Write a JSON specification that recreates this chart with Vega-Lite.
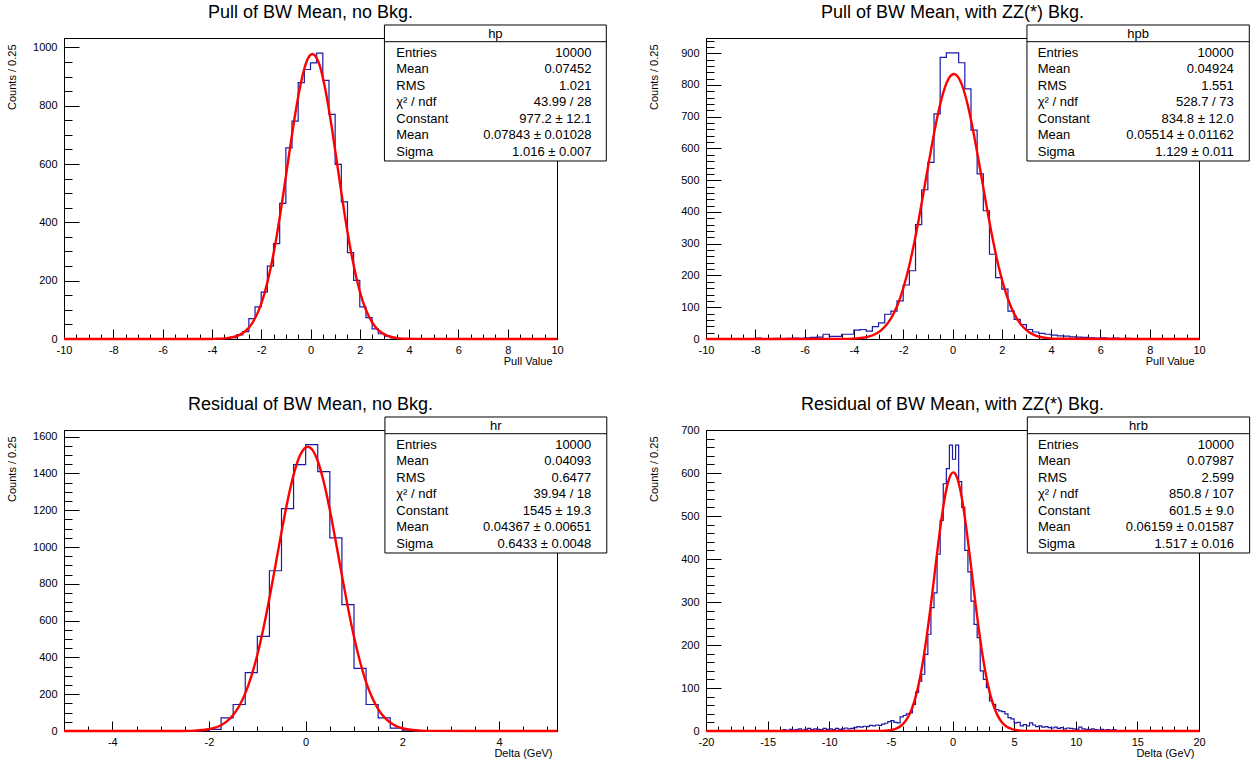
{
"$schema": "https://vega.github.io/schema/vega-lite/v6.json",
"background": "white",
"padding": {"left": 5, "top": 3, "right": 0, "bottom": 0},
"bounds": "flush",
"columns": 2,
"spacing": {"row": 91, "column": 149},
"config": {
  "view": {"stroke": "black", "strokeWidth": 1},
  "font": "Liberation Sans",
  "title": {"font": "Liberation Sans", "fontSize": 18, "fontWeight": "normal", "color": "black", "frame": "group", "anchor": "middle", "baseline": "alphabetic", "offset": 2},
  "axis": {"labelFont": "Liberation Sans", "labelFontSize": 11, "labelColor": "black", "tickColor": "black", "domainColor": "black", "titleFont": "Liberation Sans", "titleFontSize": 11, "titleFontWeight": "normal", "titleColor": "black", "grid": false, "labelOverlap": false, "labelFlush": false, "labelBound": false},
  "axisX": {"titleAlign": "right", "titleBaseline": "alphabetic", "titleAngle": 0, "titleX": 488, "titleY": 25},
  "axisY": {"titleAlign": "right", "titleBaseline": "middle", "titleAngle": -90, "titleX": -52, "titleY": 6},
  "text": {"font": "Liberation Sans", "fontSize": 13, "color": "black"}
},
"datasets": {
  "hp": [{"x":-10,"n":0},{"x":-3.5,"n":2},{"x":-3.25,"n":5},{"x":-3,"n":14},{"x":-2.75,"n":25},{"x":-2.5,"n":70},{"x":-2.25,"n":110},{"x":-2,"n":161},{"x":-1.75,"n":250},{"x":-1.5,"n":327},{"x":-1.25,"n":465},{"x":-1,"n":655},{"x":-0.75,"n":747},{"x":-0.5,"n":879},{"x":-0.25,"n":924},{"x":0,"n":947},{"x":0.25,"n":980},{"x":0.5,"n":887},{"x":0.75,"n":770},{"x":1,"n":599},{"x":1.25,"n":470},{"x":1.5,"n":296},{"x":1.75,"n":201},{"x":2,"n":110},{"x":2.25,"n":73},{"x":2.5,"n":35},{"x":2.75,"n":18},{"x":3,"n":10},{"x":3.25,"n":4},{"x":3.5,"n":1},{"x":3.75,"n":0},{"x":10,"n":0}],
  "fhp": [{"x":-10,"f":0},{"x":-4,"f":0.2},{"x":-3.875,"f":0.5},{"x":-3.625,"f":1.3},{"x":-3.375,"f":3.0},{"x":-3.125,"f":6.8},{"x":-2.875,"f":14.3},{"x":-2.625,"f":28.3},{"x":-2.375,"f":53},{"x":-2.125,"f":93},{"x":-1.875,"f":154},{"x":-1.625,"f":240},{"x":-1.375,"f":351},{"x":-1.125,"f":485},{"x":-0.875,"f":629},{"x":-0.625,"f":769},{"x":-0.375,"f":884},{"x":-0.125,"f":958},{"x":0.078,"f":977.2},{"x":0.125,"f":976},{"x":0.375,"f":937},{"x":0.625,"f":845},{"x":0.875,"f":719},{"x":1.125,"f":575},{"x":1.375,"f":433},{"x":1.625,"f":307},{"x":1.875,"f":205},{"x":2.125,"f":128},{"x":2.375,"f":76},{"x":2.625,"f":42},{"x":2.875,"f":22},{"x":3.125,"f":11},{"x":3.375,"f":5},{"x":3.625,"f":2},{"x":3.875,"f":0.9},{"x":4.1,"f":0.3},{"x":10,"f":0}],
  "hpb": [{"x":-10,"n":0},{"x":-8,"n":3},{"x":-7.75,"n":0},{"x":-7.5,"n":1},{"x":-7.25,"n":2},{"x":-7,"n":1},{"x":-6.75,"n":2},{"x":-6.5,"n":3},{"x":-6.25,"n":2},{"x":-6,"n":4},{"x":-5.75,"n":5},{"x":-5.5,"n":6},{"x":-5.25,"n":15},{"x":-5,"n":8},{"x":-4.75,"n":8},{"x":-4.5,"n":15},{"x":-4.25,"n":15},{"x":-4,"n":28},{"x":-3.75,"n":30},{"x":-3.5,"n":25},{"x":-3.25,"n":39},{"x":-3,"n":51},{"x":-2.75,"n":78},{"x":-2.5,"n":88},{"x":-2.25,"n":120},{"x":-2,"n":170},{"x":-1.75,"n":215},{"x":-1.5,"n":360},{"x":-1.25,"n":470},{"x":-1,"n":556},{"x":-0.75,"n":709},{"x":-0.5,"n":887},{"x":-0.25,"n":901},{"x":0,"n":901},{"x":0.25,"n":870},{"x":0.5,"n":788},{"x":0.75,"n":658},{"x":1,"n":520},{"x":1.25,"n":404},{"x":1.5,"n":267},{"x":1.75,"n":193},{"x":2,"n":157},{"x":2.25,"n":88},{"x":2.5,"n":62},{"x":2.75,"n":45},{"x":3,"n":30},{"x":3.25,"n":22},{"x":3.5,"n":18},{"x":3.75,"n":15},{"x":4,"n":12},{"x":4.25,"n":10},{"x":4.5,"n":9},{"x":4.75,"n":7},{"x":5,"n":6},{"x":5.25,"n":5},{"x":5.5,"n":4},{"x":5.75,"n":3},{"x":6,"n":4},{"x":6.25,"n":2},{"x":6.5,"n":3},{"x":6.75,"n":1},{"x":7,"n":2},{"x":7.25,"n":0},{"x":10,"n":0}],
  "fhpb": [{"x":-10,"f":0},{"x":-4.2,"f":0.5},{"x":-3.875,"f":1.9},{"x":-3.625,"f":4.1},{"x":-3.375,"f":8.3},{"x":-3.125,"f":15.8},{"x":-2.875,"f":28.8},{"x":-2.625,"f":49.9},{"x":-2.375,"f":82},{"x":-2.125,"f":129},{"x":-1.875,"f":193.5},{"x":-1.625,"f":276},{"x":-1.375,"f":374},{"x":-1.125,"f":484},{"x":-0.875,"f":594},{"x":-0.625,"f":696},{"x":-0.375,"f":776},{"x":-0.125,"f":824},{"x":0.055,"f":834.8},{"x":0.125,"f":833},{"x":0.375,"f":802},{"x":0.625,"f":735},{"x":0.875,"f":641},{"x":1.125,"f":533},{"x":1.375,"f":421},{"x":1.625,"f":317},{"x":1.875,"f":227},{"x":2.125,"f":155},{"x":2.375,"f":101},{"x":2.625,"f":62.6},{"x":2.875,"f":36.9},{"x":3.125,"f":20.7},{"x":3.375,"f":11},{"x":3.625,"f":5.6},{"x":3.875,"f":2.7},{"x":4.2,"f":0.8},{"x":10,"f":0}],
  "hr": [{"x":-5,"n":0},{"x":-2.25,"n":2},{"x":-2,"n":9},{"x":-1.75,"n":71},{"x":-1.5,"n":144},{"x":-1.25,"n":317},{"x":-1,"n":514},{"x":-0.75,"n":871},{"x":-0.5,"n":1209},{"x":-0.25,"n":1448},{"x":0,"n":1557},{"x":0.25,"n":1410},{"x":0.5,"n":1050},{"x":0.75,"n":687},{"x":1,"n":340},{"x":1.25,"n":144},{"x":1.5,"n":71},{"x":1.75,"n":16},{"x":2,"n":4},{"x":2.25,"n":0},{"x":5.2,"n":0}],
  "fhr": [{"x":-5,"f":0},{"x":-2.6,"f":0.3},{"x":-2.375,"f":0.9},{"x":-2.125,"f":5.3},{"x":-2,"f":9.9},{"x":-1.875,"f":18.1},{"x":-1.75,"f":31.6},{"x":-1.625,"f":53.4},{"x":-1.5,"f":86.7},{"x":-1.375,"f":135.8},{"x":-1.25,"f":204.5},{"x":-1.125,"f":296.7},{"x":-1,"f":414.4},{"x":-0.875,"f":557.2},{"x":-0.75,"f":721.8},{"x":-0.625,"f":900},{"x":-0.5,"f":1081},{"x":-0.375,"f":1250},{"x":-0.25,"f":1392},{"x":-0.125,"f":1492.8},{"x":0,"f":1541.4},{"x":0.0437,"f":1545},{"x":0.125,"f":1532.8},{"x":0.25,"f":1467.6},{"x":0.375,"f":1353},{"x":0.5,"f":1201.4},{"x":0.625,"f":1027},{"x":0.75,"f":845.6},{"x":0.875,"f":670.5},{"x":1,"f":511.7},{"x":1.125,"f":376.4},{"x":1.25,"f":266.2},{"x":1.375,"f":181.6},{"x":1.5,"f":119.1},{"x":1.625,"f":75.4},{"x":1.75,"f":45.9},{"x":1.875,"f":26.9},{"x":2.125,"f":8.2},{"x":2.375,"f":2.2},{"x":2.6,"f":0.5},{"x":5.2,"f":0}],
  "hrb": [{"x":-20,"n":0},{"x":-13.75,"n":3},{"x":-13.5,"n":0},{"x":-13.25,"n":4},{"x":-13,"n":2},{"x":-12.75,"n":3},{"x":-12.5,"n":5},{"x":-12.25,"n":2},{"x":-12,"n":4},{"x":-11.75,"n":6},{"x":-11.5,"n":3},{"x":-11.25,"n":5},{"x":-11,"n":4},{"x":-10.75,"n":3},{"x":-10.5,"n":6},{"x":-10.25,"n":4},{"x":-10,"n":5},{"x":-9.75,"n":3},{"x":-9.5,"n":6},{"x":-9.25,"n":4},{"x":-9,"n":5},{"x":-8.75,"n":7},{"x":-8.5,"n":5},{"x":-8.25,"n":6},{"x":-8,"n":8},{"x":-7.75,"n":10},{"x":-7.5,"n":9},{"x":-7.25,"n":11},{"x":-7,"n":10},{"x":-6.75,"n":13},{"x":-6.5,"n":12},{"x":-6.25,"n":14},{"x":-6,"n":13},{"x":-5.75,"n":16},{"x":-5.5,"n":18},{"x":-5.25,"n":22},{"x":-5,"n":24},{"x":-4.75,"n":20},{"x":-4.5,"n":19},{"x":-4.25,"n":33},{"x":-4,"n":36},{"x":-3.75,"n":40},{"x":-3.5,"n":42},{"x":-3.25,"n":62},{"x":-3,"n":90},{"x":-2.75,"n":116},{"x":-2.5,"n":132},{"x":-2.25,"n":178},{"x":-2,"n":225},{"x":-1.75,"n":287},{"x":-1.5,"n":321},{"x":-1.25,"n":411},{"x":-1,"n":490},{"x":-0.75,"n":575},{"x":-0.5,"n":610},{"x":-0.25,"n":665},{"x":0,"n":632},{"x":0.25,"n":665},{"x":0.5,"n":580},{"x":0.75,"n":520},{"x":1,"n":420},{"x":1.25,"n":370},{"x":1.5,"n":302},{"x":1.75,"n":248},{"x":2,"n":217},{"x":2.25,"n":140},{"x":2.5,"n":120},{"x":2.75,"n":101},{"x":3,"n":70},{"x":3.25,"n":62},{"x":3.5,"n":50},{"x":3.75,"n":47},{"x":4,"n":45},{"x":4.25,"n":40},{"x":4.5,"n":31},{"x":4.75,"n":28},{"x":5,"n":19},{"x":5.25,"n":20},{"x":5.5,"n":12},{"x":5.75,"n":15},{"x":6,"n":12},{"x":6.25,"n":19},{"x":6.5,"n":14},{"x":6.75,"n":10},{"x":7,"n":12},{"x":7.25,"n":9},{"x":7.5,"n":10},{"x":7.75,"n":8},{"x":8,"n":7},{"x":8.25,"n":9},{"x":8.5,"n":6},{"x":8.75,"n":8},{"x":9,"n":5},{"x":9.25,"n":7},{"x":9.5,"n":6},{"x":9.75,"n":5},{"x":10,"n":4},{"x":10.25,"n":9},{"x":10.5,"n":5},{"x":10.75,"n":4},{"x":11,"n":3},{"x":11.25,"n":5},{"x":11.5,"n":3},{"x":11.75,"n":2},{"x":12,"n":4},{"x":12.25,"n":2},{"x":12.5,"n":3},{"x":12.75,"n":2},{"x":13,"n":3},{"x":13.25,"n":0},{"x":20,"n":0}],
  "fhrb": [{"x":-20,"f":0},{"x":-6,"f":0.3},{"x":-5.5,"f":0.8},{"x":-5.125,"f":1.7},{"x":-4.875,"f":3.0},{"x":-4.625,"f":5.1},{"x":-4.375,"f":8.4},{"x":-4.125,"f":13.4},{"x":-3.875,"f":20.8},{"x":-3.625,"f":31.4},{"x":-3.375,"f":46.2},{"x":-3.125,"f":66.2},{"x":-2.875,"f":92.3},{"x":-2.625,"f":125.4},{"x":-2.375,"f":165.6},{"x":-2.125,"f":212.9},{"x":-1.875,"f":266.3},{"x":-1.625,"f":324.2},{"x":-1.375,"f":384.1},{"x":-1.125,"f":443},{"x":-0.875,"f":497.1},{"x":-0.625,"f":543},{"x":-0.375,"f":577},{"x":-0.125,"f":597},{"x":0.0616,"f":601.5},{"x":0.125,"f":601},{"x":0.375,"f":588.8},{"x":0.625,"f":561.4},{"x":0.875,"f":521},{"x":1.125,"f":470.5},{"x":1.375,"f":413.5},{"x":1.625,"f":353.7},{"x":1.875,"f":294.4},{"x":2.125,"f":238.5},{"x":2.375,"f":188},{"x":2.625,"f":144.3},{"x":2.875,"f":107.7},{"x":3.125,"f":78.3},{"x":3.375,"f":55.4},{"x":3.625,"f":38.1},{"x":3.875,"f":25.5},{"x":4.125,"f":16.6},{"x":4.375,"f":10.6},{"x":4.625,"f":6.5},{"x":4.875,"f":3.9},{"x":5.125,"f":2.3},{"x":5.375,"f":1.3},{"x":5.625,"f":0.7},{"x":6,"f":0.3},{"x":20,"f":0}],
  "shp": [{"row":0,"label":"Entries","value":"10000"},{"row":1,"label":"Mean","value":"0.07452"},{"row":2,"label":"RMS","value":"1.021"},{"row":3,"label":"χ² / ndf","value":"43.99 / 28"},{"row":4,"label":"Constant","value":"977.2 ± 12.1"},{"row":5,"label":"Mean","value":"0.07843 ± 0.01028"},{"row":6,"label":"Sigma","value":"1.016 ± 0.007"}],
  "shpb": [{"row":0,"label":"Entries","value":"10000"},{"row":1,"label":"Mean","value":"0.04924"},{"row":2,"label":"RMS","value":"1.551"},{"row":3,"label":"χ² / ndf","value":"528.7 / 73"},{"row":4,"label":"Constant","value":"834.8 ± 12.0"},{"row":5,"label":"Mean","value":"0.05514 ± 0.01162"},{"row":6,"label":"Sigma","value":"1.129 ± 0.011"}],
  "shr": [{"row":0,"label":"Entries","value":"10000"},{"row":1,"label":"Mean","value":"0.04093"},{"row":2,"label":"RMS","value":"0.6477"},{"row":3,"label":"χ² / ndf","value":"39.94 / 18"},{"row":4,"label":"Constant","value":"1545 ± 19.3"},{"row":5,"label":"Mean","value":"0.04367 ± 0.00651"},{"row":6,"label":"Sigma","value":"0.6433 ± 0.0048"}],
  "shrb": [{"row":0,"label":"Entries","value":"10000"},{"row":1,"label":"Mean","value":"0.07987"},{"row":2,"label":"RMS","value":"2.599"},{"row":3,"label":"χ² / ndf","value":"850.8 / 107"},{"row":4,"label":"Constant","value":"601.5 ± 9.0"},{"row":5,"label":"Mean","value":"0.06159 ± 0.01587"},{"row":6,"label":"Sigma","value":"1.517 ± 0.016"}]
},
"concat": [
 {
  "width": 493, "height": 301,
  "title": {"text": "Pull of BW Mean, no Bkg."},
  "resolve": {"scale": {"y": "independent"}},
  "layer": [
   {"resolve": {"axis": {"x": "independent", "y": "independent"}},
    "layer": [
     {"data": {"name": "hp"}, "mark": {"type": "line", "interpolate": "step-after", "color": "#1a1aa6", "strokeWidth": 1.2},
      "encoding": {
        "x": {"field": "x", "type": "quantitative", "scale": {"domain": [-10, 10], "nice": false, "zero": false},
              "axis": {"orient": "bottom", "title": "Pull Value", "values": [-10,-8,-6,-4,-2,0,2,4,6,8,10], "tickSize": -10, "labelPadding": 15, "labelOverlap": false, "labelExpr": "'' + datum.value"}},
        "y": {"field": "n", "type": "quantitative", "scale": {"domain": [0, 1032], "nice": false},
              "axis": {"orient": "left", "title": "Counts / 0.25", "values": [0,200,400,600,800,1000], "tickSize": -15, "labelPadding": 22, "labelOverlap": false, "labelExpr": "'' + datum.value"}}
      }},
     {"data": {"name": "fhp"}, "mark": {"type": "line", "interpolate": "monotone", "color": "#ff0000", "strokeWidth": 2.4},
      "encoding": {
        "x": {"field": "x", "type": "quantitative", "axis": {"orient": "bottom", "title": null, "labels": false, "domain": false, "tickSize": -5, "values": [-9.5,-9,-8.5,-7.5,-7,-6.5,-5.5,-5,-4.5,-3.5,-3,-2.5,-1.5,-1,-0.5,0.5,1,1.5,2.5,3,3.5,4.5,5,5.5,6.5,7,7.5,8.5,9,9.5]}},
        "y": {"field": "f", "type": "quantitative", "axis": {"orient": "left", "title": null, "labels": false, "domain": false, "tickSize": -8, "values": [50,100,150,250,300,350,450,500,550,650,700,750,850,900,950]}}}}
   ]},
   {"layer": [
     {"data": {"values": [{}]}, "mark": {"type": "rect", "fill": "white", "stroke": "black", "strokeWidth": 1},
      "encoding": {"x": {"datum": 3.0, "axis": null}, "x2": {"datum": 12.0}, "y": {"datum": -1.674, "type": "quantitative", "scale": {"domain": [-0.888, 17.3], "reverse": true, "nice": false, "zero": false}, "axis": null}, "y2": {"datum": 6.544}}},
     {"data": {"values": [{}]}, "mark": {"type": "rule", "color": "black", "strokeWidth": 1},
      "encoding": {"x": {"datum": 3.0, "axis": null}, "x2": {"datum": 12.0}, "y": {"datum": -0.665, "type": "quantitative", "axis": null}}},
     {"data": {"values": [{"h": "hp"}]}, "mark": {"type": "text", "align": "center", "baseline": "middle"},
      "encoding": {"x": {"datum": 7.5, "axis": null}, "y": {"datum": -1.112, "type": "quantitative", "axis": null}, "text": {"field": "h"}}},
     {"data": {"name": "shp"}, "mark": {"type": "text", "align": "left", "baseline": "middle"},
      "encoding": {"x": {"datum": 3.48, "axis": null}, "y": {"field": "row", "type": "quantitative", "axis": null}, "text": {"field": "label"}}},
     {"data": {"name": "shp"}, "mark": {"type": "text", "align": "right", "baseline": "middle"},
      "encoding": {"x": {"datum": 11.4, "axis": null}, "y": {"field": "row", "type": "quantitative", "axis": null}, "text": {"field": "value"}}}
   ]}
  ]
 },
 {
  "width": 493, "height": 301,
  "title": {"text": "Pull of BW Mean, with ZZ(*) Bkg."},
  "resolve": {"scale": {"y": "independent"}},
  "layer": [
   {"resolve": {"axis": {"x": "independent", "y": "independent"}},
    "layer": [
     {"data": {"name": "hpb"}, "mark": {"type": "line", "interpolate": "step-after", "color": "#1a1aa6", "strokeWidth": 1.2},
      "encoding": {
        "x": {"field": "x", "type": "quantitative", "scale": {"domain": [-10, 10], "nice": false, "zero": false},
              "axis": {"orient": "bottom", "title": "Pull Value", "values": [-10,-8,-6,-4,-2,0,2,4,6,8,10], "tickSize": -10, "labelPadding": 15, "labelOverlap": false, "labelExpr": "'' + datum.value"}},
        "y": {"field": "n", "type": "quantitative", "scale": {"domain": [0, 948], "nice": false},
              "axis": {"orient": "left", "title": "Counts / 0.25", "values": [0,100,200,300,400,500,600,700,800,900], "tickSize": -15, "labelPadding": 22, "labelOverlap": false, "labelExpr": "'' + datum.value"}}
      }},
     {"data": {"name": "fhpb"}, "mark": {"type": "line", "interpolate": "monotone", "color": "#ff0000", "strokeWidth": 2.4},
      "encoding": {
        "x": {"field": "x", "type": "quantitative", "axis": {"orient": "bottom", "title": null, "labels": false, "domain": false, "tickSize": -5, "values": [-9.5,-9,-8.5,-7.5,-7,-6.5,-5.5,-5,-4.5,-3.5,-3,-2.5,-1.5,-1,-0.5,0.5,1,1.5,2.5,3,3.5,4.5,5,5.5,6.5,7,7.5,8.5,9,9.5]}},
        "y": {"field": "f", "type": "quantitative", "axis": {"orient": "left", "title": null, "labels": false, "domain": false, "tickSize": -8, "values": [20,40,60,80,120,140,160,180,220,240,260,280,320,340,360,380,420,440,460,480,520,540,560,580,620,640,660,680,720,740,760,780,820,840,860,880,920,940]}}}}
   ]},
   {"layer": [
     {"data": {"values": [{}]}, "mark": {"type": "rect", "fill": "white", "stroke": "black", "strokeWidth": 1},
      "encoding": {"x": {"datum": 3.02, "axis": null}, "x2": {"datum": 12.04}, "y": {"datum": -1.674, "type": "quantitative", "scale": {"domain": [-0.888, 17.3], "reverse": true, "nice": false, "zero": false}, "axis": null}, "y2": {"datum": 6.544}}},
     {"data": {"values": [{}]}, "mark": {"type": "rule", "color": "black", "strokeWidth": 1},
      "encoding": {"x": {"datum": 3.02, "axis": null}, "x2": {"datum": 12.04}, "y": {"datum": -0.665, "type": "quantitative", "axis": null}}},
     {"data": {"values": [{"h": "hpb"}]}, "mark": {"type": "text", "align": "center", "baseline": "middle"},
      "encoding": {"x": {"datum": 7.53, "axis": null}, "y": {"datum": -1.112, "type": "quantitative", "axis": null}, "text": {"field": "h"}}},
     {"data": {"name": "shpb"}, "mark": {"type": "text", "align": "left", "baseline": "middle"},
      "encoding": {"x": {"datum": 3.46, "axis": null}, "y": {"field": "row", "type": "quantitative", "axis": null}, "text": {"field": "label"}}},
     {"data": {"name": "shpb"}, "mark": {"type": "text", "align": "right", "baseline": "middle"},
      "encoding": {"x": {"datum": 11.41, "axis": null}, "y": {"field": "row", "type": "quantitative", "axis": null}, "text": {"field": "value"}}}
   ]}
  ]
 },
 {
  "width": 493, "height": 301,
  "title": {"text": "Residual of BW Mean, no Bkg."},
  "resolve": {"scale": {"y": "independent"}},
  "layer": [
   {"resolve": {"axis": {"x": "independent", "y": "independent"}},
    "layer": [
     {"data": {"name": "hr"}, "mark": {"type": "line", "interpolate": "step-after", "color": "#1a1aa6", "strokeWidth": 1.2},
      "encoding": {
        "x": {"field": "x", "type": "quantitative", "scale": {"domain": [-5, 5.2], "nice": false, "zero": false},
              "axis": {"orient": "bottom", "title": "Delta (GeV)", "values": [-4,-2,0,2,4], "tickSize": -10, "labelPadding": 15, "labelOverlap": false, "labelExpr": "'' + datum.value"}},
        "y": {"field": "n", "type": "quantitative", "scale": {"domain": [0, 1636], "nice": false},
              "axis": {"orient": "left", "title": "Counts / 0.25", "values": [0,200,400,600,800,1000,1200,1400,1600], "tickSize": -15, "labelPadding": 22, "labelOverlap": false, "labelExpr": "'' + datum.value"}}
      }},
     {"data": {"name": "fhr"}, "mark": {"type": "line", "interpolate": "monotone", "color": "#ff0000", "strokeWidth": 2.4},
      "encoding": {
        "x": {"field": "x", "type": "quantitative", "axis": {"orient": "bottom", "title": null, "labels": false, "domain": false, "tickSize": -5, "values": [-5,-4.5,-3.5,-3,-2.5,-1.5,-1,-0.5,0.5,1,1.5,2.5,3,3.5,4.5,5]}},
        "y": {"field": "f", "type": "quantitative", "axis": {"orient": "left", "title": null, "labels": false, "domain": false, "tickSize": -8, "values": [50,100,150,250,300,350,450,500,550,650,700,750,850,900,950,1050,1100,1150,1250,1300,1350,1450,1500,1550]}}}}
   ]},
   {"layer": [
     {"data": {"values": [{}]}, "mark": {"type": "rect", "fill": "white", "stroke": "black", "strokeWidth": 1},
      "encoding": {"x": {"datum": 1.64, "axis": null}, "x2": {"datum": 6.23}, "y": {"datum": -1.674, "type": "quantitative", "scale": {"domain": [-0.888, 17.3], "reverse": true, "nice": false, "zero": false}, "axis": null}, "y2": {"datum": 6.544}}},
     {"data": {"values": [{}]}, "mark": {"type": "rule", "color": "black", "strokeWidth": 1},
      "encoding": {"x": {"datum": 1.64, "axis": null}, "x2": {"datum": 6.23}, "y": {"datum": -0.665, "type": "quantitative", "axis": null}}},
     {"data": {"values": [{"h": "hr"}]}, "mark": {"type": "text", "align": "center", "baseline": "middle"},
      "encoding": {"x": {"datum": 3.935, "axis": null}, "y": {"datum": -1.112, "type": "quantitative", "axis": null}, "text": {"field": "h"}}},
     {"data": {"name": "shr"}, "mark": {"type": "text", "align": "left", "baseline": "middle"},
      "encoding": {"x": {"datum": 1.875, "axis": null}, "y": {"field": "row", "type": "quantitative", "axis": null}, "text": {"field": "label"}}},
     {"data": {"name": "shr"}, "mark": {"type": "text", "align": "right", "baseline": "middle"},
      "encoding": {"x": {"datum": 5.91, "axis": null}, "y": {"field": "row", "type": "quantitative", "axis": null}, "text": {"field": "value"}}}
   ]}
  ]
 },
 {
  "width": 493, "height": 301,
  "title": {"text": "Residual of BW Mean, with ZZ(*) Bkg."},
  "resolve": {"scale": {"y": "independent"}},
  "layer": [
   {"resolve": {"axis": {"x": "independent", "y": "independent"}},
    "layer": [
     {"data": {"name": "hrb"}, "mark": {"type": "line", "interpolate": "step-after", "color": "#1a1aa6", "strokeWidth": 1.2},
      "encoding": {
        "x": {"field": "x", "type": "quantitative", "scale": {"domain": [-20, 20], "nice": false, "zero": false},
              "axis": {"orient": "bottom", "title": "Delta (GeV)", "values": [-20,-15,-10,-5,0,5,10,15,20], "tickSize": -10, "labelPadding": 15, "labelOverlap": false, "labelExpr": "'' + datum.value"}},
        "y": {"field": "n", "type": "quantitative", "scale": {"domain": [0, 700], "nice": false},
              "axis": {"orient": "left", "title": "Counts / 0.25", "values": [0,100,200,300,400,500,600,700], "tickSize": -15, "labelPadding": 22, "labelOverlap": false, "labelExpr": "'' + datum.value"}}
      }},
     {"data": {"name": "fhrb"}, "mark": {"type": "line", "interpolate": "monotone", "color": "#ff0000", "strokeWidth": 2.4},
      "encoding": {
        "x": {"field": "x", "type": "quantitative", "axis": {"orient": "bottom", "title": null, "labels": false, "domain": false, "tickSize": -5, "values": [-19,-18,-17,-16,-14,-13,-12,-11,-9,-8,-7,-6,-4,-3,-2,-1,1,2,3,4,6,7,8,9,11,12,13,14,16,17,18,19]}},
        "y": {"field": "f", "type": "quantitative", "axis": {"orient": "left", "title": null, "labels": false, "domain": false, "tickSize": -8, "values": [20,40,60,80,120,140,160,180,220,240,260,280,320,340,360,380,420,440,460,480,520,540,560,580,620,640,660,680]}}}}
   ]},
   {"layer": [
     {"data": {"values": [{}]}, "mark": {"type": "rect", "fill": "white", "stroke": "black", "strokeWidth": 1},
      "encoding": {"x": {"datum": 6.07, "axis": null}, "x2": {"datum": 24.11}, "y": {"datum": -1.674, "type": "quantitative", "scale": {"domain": [-0.888, 17.3], "reverse": true, "nice": false, "zero": false}, "axis": null}, "y2": {"datum": 6.544}}},
     {"data": {"values": [{}]}, "mark": {"type": "rule", "color": "black", "strokeWidth": 1},
      "encoding": {"x": {"datum": 6.07, "axis": null}, "x2": {"datum": 24.11}, "y": {"datum": -0.665, "type": "quantitative", "axis": null}}},
     {"data": {"values": [{"h": "hrb"}]}, "mark": {"type": "text", "align": "center", "baseline": "middle"},
      "encoding": {"x": {"datum": 15.09, "axis": null}, "y": {"datum": -1.112, "type": "quantitative", "axis": null}, "text": {"field": "h"}}},
     {"data": {"name": "shrb"}, "mark": {"type": "text", "align": "left", "baseline": "middle"},
      "encoding": {"x": {"datum": 6.94, "axis": null}, "y": {"field": "row", "type": "quantitative", "axis": null}, "text": {"field": "label"}}},
     {"data": {"name": "shrb"}, "mark": {"type": "text", "align": "right", "baseline": "middle"},
      "encoding": {"x": {"datum": 22.84, "axis": null}, "y": {"field": "row", "type": "quantitative", "axis": null}, "text": {"field": "value"}}}
   ]}
  ]
 }
]
}
